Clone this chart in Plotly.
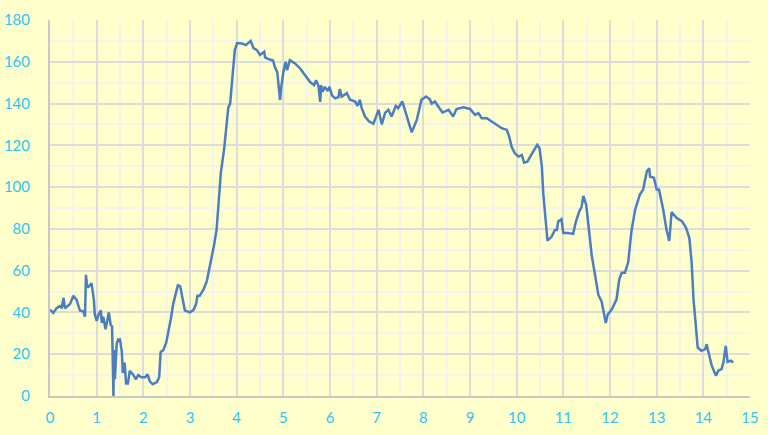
import plotly.graph_objects as go

x_vals = [0, 0.07, 0.14, 0.21, 0.25, 0.29, 0.32, 0.43, 0.5, 0.57, 0.64, 0.71, 0.75, 0.77, 0.8, 0.86, 0.89,
          0.94, 0.96, 1.0, 1.04, 1.09, 1.11, 1.14, 1.19, 1.23, 1.26, 1.3, 1.33, 1.36, 1.37, 1.39, 1.43,
          1.46, 1.5, 1.54, 1.56, 1.6, 1.63, 1.67, 1.71, 1.79, 1.84, 1.89, 1.96, 2.04, 2.09, 2.14, 2.2,
          2.29, 2.34, 2.37, 2.43, 2.49, 2.54, 2.59, 2.64, 2.69, 2.74, 2.79, 2.84, 2.89, 2.99, 3.07, 3.13,
          3.16, 3.21, 3.29, 3.36, 3.41, 3.46, 3.51, 3.57, 3.61, 3.66, 3.73, 3.82, 3.86, 3.93, 3.96, 4.01,
          4.11, 4.2, 4.3, 4.36, 4.43, 4.5, 4.59, 4.61, 4.67, 4.78, 4.82, 4.87, 4.93, 4.96, 5.0, 5.05,
          5.08, 5.14, 5.25, 5.36, 5.46, 5.57, 5.66, 5.7, 5.75, 5.79, 5.81, 5.84, 5.89, 5.95, 5.99, 6.04,
          6.11, 6.18, 6.21, 6.25, 6.36, 6.43, 6.54, 6.59, 6.64, 6.68, 6.75, 6.84, 6.93, 7.04, 7.11, 7.18,
          7.25, 7.32, 7.41, 7.46, 7.55, 7.64, 7.75, 7.86, 7.96, 8.06, 8.14, 8.18, 8.25, 8.32, 8.41, 8.54,
          8.64, 8.71, 8.86, 9.0, 9.11, 9.18, 9.25, 9.36, 9.46, 9.57, 9.68, 9.79, 9.84, 9.89, 9.96, 10.04,
          10.11, 10.16, 10.23, 10.3, 10.36, 10.44, 10.49, 10.54, 10.57, 10.61, 10.66, 10.75, 10.82, 10.86,
          10.89, 10.96, 11.0, 11.1, 11.21, 11.27, 11.34, 11.39, 11.43, 11.49, 11.54, 11.61, 11.68, 11.75,
          11.82, 11.88, 11.91, 11.95, 12.04, 12.14, 12.2, 12.25, 12.32, 12.39, 12.46, 12.54, 12.64, 12.71,
          12.79, 12.84, 12.86, 12.94, 13.0, 13.05, 13.14, 13.21, 13.27, 13.32, 13.43, 13.54, 13.63, 13.7,
          13.75, 13.79, 13.82, 13.88, 13.96, 14.04, 14.07, 14.11, 14.18, 14.27, 14.32, 14.39, 14.43, 14.48,
          14.52, 14.59, 14.64]
y_vals = [41.4, 39.8, 42, 43, 42, 47, 42, 44, 48, 46, 41, 40.6, 38, 58, 52, 53, 54,
          46, 39, 36, 39, 41, 35, 38, 32, 37, 40, 34, 33.4, 0, 22, 8, 25,
          27, 27, 21, 11, 16, 6, 6, 12, 10, 8, 10, 9, 9, 10.4, 7, 5.6,
          6.7, 9, 21, 22, 25.5, 31, 37, 44, 49, 53, 52.5, 46, 41, 40, 41, 44,
          48, 48, 51, 55, 60.5, 64.5, 71.6, 79.6, 94, 106.7, 118, 138, 140, 156, 165.6, 169,
          168.8, 168, 170, 166.5, 165.7, 163.3, 164.8, 162.1, 161.4, 160.6, 157.4, 155, 141.7, 148.6, 155, 160,
          156, 160.8, 159.2, 156.8, 153.6, 150.4, 148.8, 151.2, 148.8, 140.8, 148.8, 145.6, 148, 146, 148, 144,
          142.5, 143, 147, 143.3, 145, 141.8, 141, 138.9, 141.8, 137.8, 133.8, 131.4, 130.3, 137, 130, 135.5,
          137, 133.8, 138.9, 137.8, 141, 133.8, 126.2, 132.2, 141.8, 143.4, 142, 140, 141, 138.6, 135.7, 137,
          133.8, 137.4, 138.2, 137.4, 134.6, 135.4, 133, 133, 131.4, 129.8, 128.2, 127.4, 124.2, 119.4, 116.2, 114.6,
          115.4, 111.7, 112.2, 114.9, 117, 120.2, 118.6, 109.8, 97, 85.8, 74.4, 76.3, 79.5, 79.5,
          83.5, 84.6, 78, 78, 77.6, 83.5, 88.3, 90.4, 95.8, 91.5, 81, 67, 58, 48.5,
          45.3, 38, 35, 39, 41.5, 46.3, 56, 59, 59, 64, 79, 89.3, 96.4, 98.8,
          107.6, 109, 105, 104.5, 98.8, 98.8, 89.3, 79.7, 74.2, 88, 85.2, 83.7, 80.5, 75.7,
          63.8, 46.3, 37.5, 23.2, 21.6, 22.4, 24.8, 20.8, 14.5, 9.7, 12.1, 12.9, 16, 24,
          16.4, 16.9, 16]

x_ticks = list(range(0, 16))
y_ticks = list(range(0, 181, 20))

fig = go.Figure(go.Scatter(x=x_vals, y=y_vals, mode="lines",
                           line=dict(color="#4A7EC0", width=2.5), hoverinfo="skip"))

tick_font = dict(family="Lato, Open Sans, sans-serif", size=15, color="#2EC4F2")
fig.update_layout(
    width=768, height=435,
    margin=dict(l=50, r=18, t=20, b=39),
    paper_bgcolor="#FFFFCC", plot_bgcolor="#FFFFCC",
    showlegend=False,
)
fig.update_xaxes(range=[0, 15], tickvals=x_ticks, ticktext=[str(v) for v in x_ticks],
                 showgrid=True, gridcolor="#DCDCDA", gridwidth=1.5,
                 minor=dict(dtick=0.5, tick0=0, showgrid=True, gridcolor="#F4F4EC", gridwidth=1.5),
                 showline=True, linecolor="#C8C8C8", linewidth=2, zeroline=False, automargin=False,
                 ticks="", tickfont=tick_font, ticklabelstandoff=7)
fig.update_yaxes(range=[0, 180], tickvals=y_ticks, ticktext=[str(v) for v in y_ticks],
                 showgrid=True, gridcolor="#DCDCDA", gridwidth=1.5,
                 minor=dict(dtick=10, tick0=0, showgrid=True, gridcolor="#F4F4EC", gridwidth=1.5),
                 showline=True, linecolor="#C8C8C8", linewidth=2, zeroline=False, automargin=False,
                 ticks="", tickfont=tick_font, ticklabelstandoff=15)
fig.write_html("out.html", config={"displayModeBar": False},
               post_script="document.body.style.margin='0';document.body.style.background='#FFFFCC';")
